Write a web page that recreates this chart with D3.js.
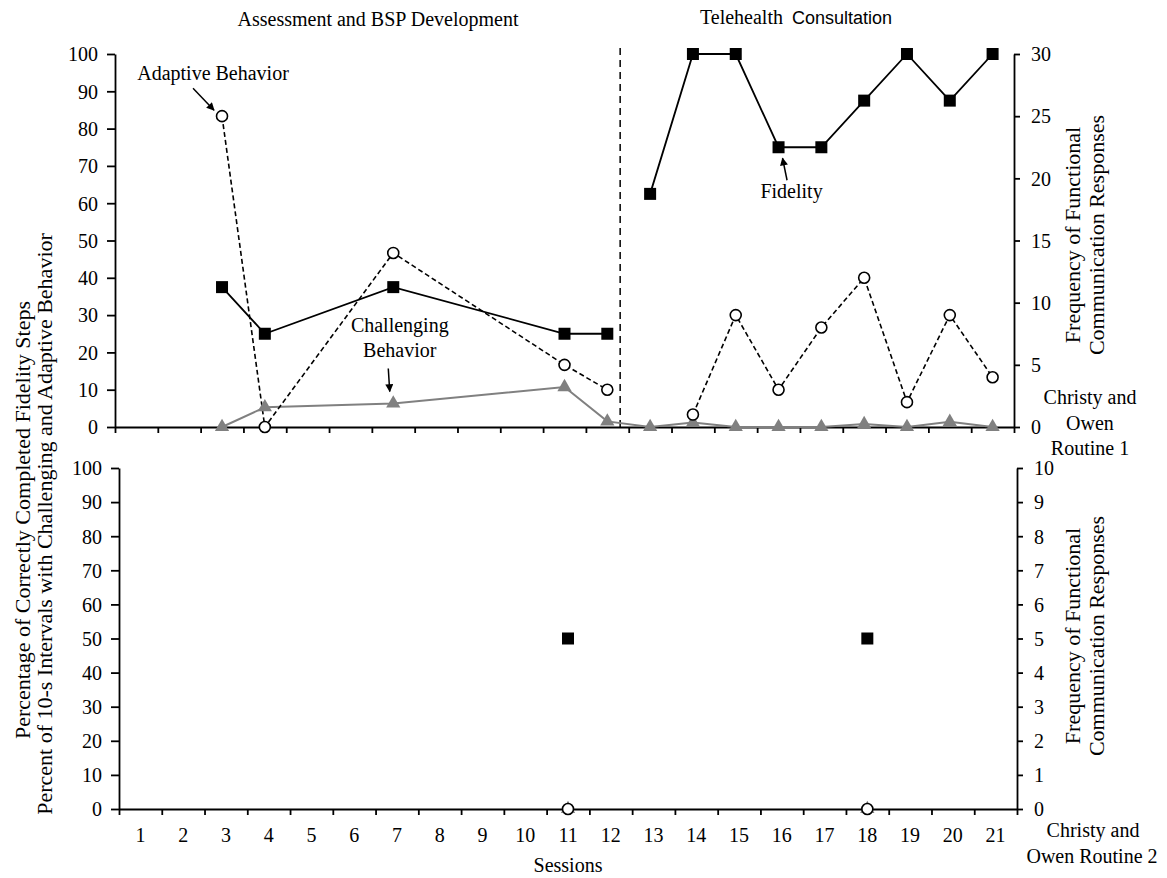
<!DOCTYPE html>
<html><head><meta charset="utf-8">
<script src="https://cdn.jsdelivr.net/npm/d3@7"></script>
<style>
body{margin:0;background:#fff;}
svg{display:block;}
</style></head><body>
<svg id="chart" width="1167" height="878"></svg>
<script>
// ---------- data ----------
const sessionLabels = [1,2,3,4,5,6,7,8,9,10,11,12,13,14,15,16,17,18,19,20,21];
const leftTicks = [0,10,20,30,40,50,60,70,80,90,100];
const rightTicksTop = [0,5,10,15,20,25,30];
const rightTicksBottom = [0,1,2,3,4,5,6,7,8,9,10];

// Routine 1 (top panel)
const r1FidelityBaseSessions = [3,4,7,11,12];
const r1FidelityBase = [37.5,25,37.5,25,25];
const r1FidelityTeleSessions = [13,14,15,16,17,18,19,20,21];
const r1FidelityTele = [62.5,100,100,75,75,87.5,100,87.5,100];

const r1AdaptiveBaseSessions = [3,4,7,11,12];
const r1AdaptiveBase = [25,0,14,5,3];
const r1AdaptiveTeleSessions = [14,15,16,17,18,19,20,21];
const r1AdaptiveTele = [1,9,3,8,12,2,9,4];

const r1ChallengingSessions = [3,4,7,11,12,13,14,15,16,17,18,19,20,21];
const r1Challenging = [0,5.3,6.3,10.7,1.5,0,1.2,0,0,0,0.8,0,1.4,0];

// Routine 2 (bottom panel) - isolated probe points, not connected
const r2Sessions = [11,18];
const r2Fidelity = [50,50];
const r2Adaptive = [0,0];
const r2Challenging = [0,0];

const phaseChangeAfter = 12.3; // session position of the phase-change line

// ---------- setup ----------
const SERIF = "Liberation Serif, Times New Roman, serif";
const svg = d3.select("#chart").attr("font-family", SERIF);
const FS = 20;
const svgDefs = svg.append("defs");
svgDefs.append("marker").attr("id","arr").attr("viewBox","0 0 10 10")
  .attr("refX",9).attr("refY",5).attr("markerWidth",9).attr("markerHeight",8)
  .attr("markerUnits","userSpaceOnUse").attr("orient","auto")
  .append("path").attr("d","M0,0 L10,5 L0,10 z").attr("fill","#000");

const panels = {
  top: {x0:115, x1:1014, yTop:54, yBot:427, rMax:30, rTicks:rightTicksTop},
  bot: {x0:119, x1:1017, yTop:468, yBot:809, rMax:10, rTicks:rightTicksBottom}
};

function makeScales(p){
  const x = d3.scaleBand().domain(sessionLabels).range([p.x0,p.x1]);
  const xb = d3.scaleLinear().domain([0,sessionLabels.length]).range([p.x0,p.x1]);
  const yL = d3.scaleLinear().domain([0,100]).range([p.yBot,p.yTop]);
  const yR = d3.scaleLinear().domain([0,p.rMax]).range([p.yBot,p.yTop]);
  const cx = s => x(s) + x.bandwidth()/2;
  return {x,xb,yL,yR,cx};
}

function styleAxis(g){
  g.attr("font-family", SERIF);
  g.selectAll("path.domain").attr("stroke","#000").attr("stroke-width",1.8);
  g.selectAll(".tick line").attr("stroke","#000").attr("stroke-width",1.8);
  g.selectAll(".tick text").attr("font-family",SERIF).attr("font-size",FS).attr("fill","#000");
}

function drawAxes(p, S, showLabels){
  const gl = svg.append("g").attr("transform",`translate(${p.x0},0)`)
    .call(d3.axisLeft(S.yL).tickValues(leftTicks).tickSize(8).tickPadding(9).tickSizeOuter(0));
  styleAxis(gl);
  gl.selectAll(".tick text").attr("dy","0.34em");
  const gr = svg.append("g").attr("transform",`translate(${p.x1},0)`)
    .call(d3.axisRight(S.yR).tickValues(p.rTicks).tickSize(6).tickPadding(11).tickSizeOuter(0));
  styleAxis(gr);
  gr.selectAll(".tick text").attr("dy","0.34em");
  const gx = svg.append("g").attr("transform",`translate(0,${p.yBot})`)
    .call(d3.axisBottom(S.xb).tickValues(d3.range(0,sessionLabels.length+1)).tickFormat("").tickSize(6).tickSizeOuter(0));
  styleAxis(gx);
  if(showLabels){
    const gxl = svg.append("g").attr("transform",`translate(0,${p.yBot})`)
      .call(d3.axisBottom(S.x).tickSize(0).tickPadding(19));
    gxl.select("path.domain").remove();
    styleAxis(gxl);
  }
}

function drawSeries(S, tri, circ, sq, connect){
  const g = svg.append("g");
  if(connect){
    tri.forEach(ser=>{
      g.append("path").datum(ser.s.map((s,i)=>[S.cx(s),S.yL(ser.v[i])]))
        .attr("d",d3.line()).attr("fill","none").attr("stroke","#808080").attr("stroke-width",2);
    });
    circ.forEach(ser=>{
      g.append("path").datum(ser.s.map((s,i)=>[S.cx(s),S.yR(ser.v[i])]))
        .attr("d",d3.line()).attr("fill","none").attr("stroke","#000").attr("stroke-width",1.6)
        .attr("stroke-dasharray","5,3");
    });
    sq.forEach(ser=>{
      g.append("path").datum(ser.s.map((s,i)=>[S.cx(s),S.yL(ser.v[i])]))
        .attr("d",d3.line()).attr("fill","none").attr("stroke","#000").attr("stroke-width",1.8);
    });
  }
  const triSym = d3.symbol().type(d3.symbolTriangle).size(88);
  tri.forEach(ser=>{
    g.selectAll(null).data(ser.s.map((s,i)=>[s,ser.v[i]])).join("path")
      .attr("d",triSym).attr("fill","#808080")
      .attr("transform",d=>`translate(${S.cx(d[0])},${S.yL(d[1])})`);
  });
  circ.forEach(ser=>{
    g.selectAll(null).data(ser.s.map((s,i)=>[s,ser.v[i]])).join("circle")
      .attr("cx",d=>S.cx(d[0])).attr("cy",d=>S.yR(d[1])).attr("r",5.5)
      .attr("fill","#fff").attr("stroke","#000").attr("stroke-width",1.6);
  });
  sq.forEach(ser=>{
    g.selectAll(null).data(ser.s.map((s,i)=>[s,ser.v[i]])).join("rect")
      .attr("x",d=>S.cx(d[0])-6).attr("y",d=>S.yL(d[1])-6).attr("width",12).attr("height",12)
      .attr("fill","#000");
  });
}

// ---------- top panel ----------
const PT = panels.top, ST = makeScales(PT);
drawAxes(PT, ST, false);
const phaseX = ST.cx(12) + (phaseChangeAfter-12)*ST.x.bandwidth();
svg.append("line").attr("x1",phaseX).attr("x2",phaseX).attr("y1",48).attr("y2",PT.yBot)
  .attr("stroke","#000").attr("stroke-width",1.5).attr("stroke-dasharray","7,5");
drawSeries(ST,
  [{s:r1ChallengingSessions, v:r1Challenging}],
  [{s:r1AdaptiveBaseSessions, v:r1AdaptiveBase},{s:r1AdaptiveTeleSessions, v:r1AdaptiveTele}],
  [{s:r1FidelityBaseSessions, v:r1FidelityBase},{s:r1FidelityTeleSessions, v:r1FidelityTele}], true);

// ---------- bottom panel ----------
const PB = panels.bot, SB = makeScales(PB);
drawAxes(PB, SB, true);
drawSeries(SB,
  [{s:r2Sessions, v:r2Challenging}],
  [{s:r2Sessions, v:r2Adaptive}],
  [{s:r2Sessions, v:r2Fidelity}], false);

// ---------- text ----------
function txt(x,y,s,opt={}){
  return svg.append("text").attr("x",x).attr("y",y).text(s)
    .attr("font-family",SERIF)
    .attr("font-size",opt.fs||FS).attr("text-anchor",opt.anchor||"middle").attr("fill","#000");
}
function rtxt(x,y,s,fs){
  return svg.append("text").attr("transform",`translate(${x},${y}) rotate(-90)`)
    .attr("text-anchor","middle").attr("font-family",SERIF).attr("font-size",fs).attr("fill","#000").text(s);
}
txt(378,26,"Assessment and BSP Development");
const tt = svg.append("text").attr("x",796).attr("y",24).attr("text-anchor","middle")
  .attr("font-family",SERIF).attr("font-size",FS);
tt.append("tspan").text("Telehealth");
tt.append("tspan").attr("dx",9).attr("font-family","Liberation Sans, Arial, sans-serif").attr("font-size",18).text("Consultation");

// annotations (anchored to data points)
const ad = [ST.cx(r1AdaptiveBaseSessions[0]), ST.yR(r1AdaptiveBase[0])];
txt(ad[0]-9, ad[1]-36, "Adaptive Behavior");
svg.append("line").attr("x1",ad[0]-29).attr("y1",ad[1]-28).attr("x2",ad[0]-8).attr("y2",ad[1]-6)
  .attr("stroke","#000").attr("stroke-width",1.5).attr("marker-end","url(#arr)");

const ch = [ST.cx(r1ChallengingSessions[2]), ST.yL(r1Challenging[2])];
txt(ch[0]+6.5, ch[1]-71.5, "Challenging");
txt(ch[0]+6.5, ch[1]-46.5, "Behavior");
svg.append("line").attr("x1",ch[0]-5).attr("y1",ch[1]-35).attr("x2",ch[0]-3.5).attr("y2",ch[1]-12)
  .attr("stroke","#000").attr("stroke-width",1.5).attr("marker-end","url(#arr)");

const fi = [ST.cx(r1FidelityTeleSessions[3]), ST.yL(r1FidelityTele[3])];
txt(fi[0]+13, fi[1]+50.5, "Fidelity");
svg.append("line").attr("x1",fi[0]+8.5).attr("y1",fi[1]+33).attr("x2",fi[0]+4).attr("y2",fi[1]+11)
  .attr("stroke","#000").attr("stroke-width",1.5).attr("marker-end","url(#arr)");

rtxt(30,520,"Percentage of Correctly Completed Fidelity Steps",22);
rtxt(52,524,"Percent of 10-s Intervals with Challenging and Adaptive Behavior",22);
[235,636].forEach(cy=>{
  rtxt(1080,cy,"Frequency of Functional",22);
  rtxt(1104,cy,"Communication Responses",22);
});

txt(1090,404,"Christy and");
txt(1090,430,"Owen");
txt(1090,455,"Routine 1");
txt(1093,837,"Christy and");
txt(1092,863,"Owen Routine 2");
txt(568,872,"Sessions");
</script>
</body></html>
